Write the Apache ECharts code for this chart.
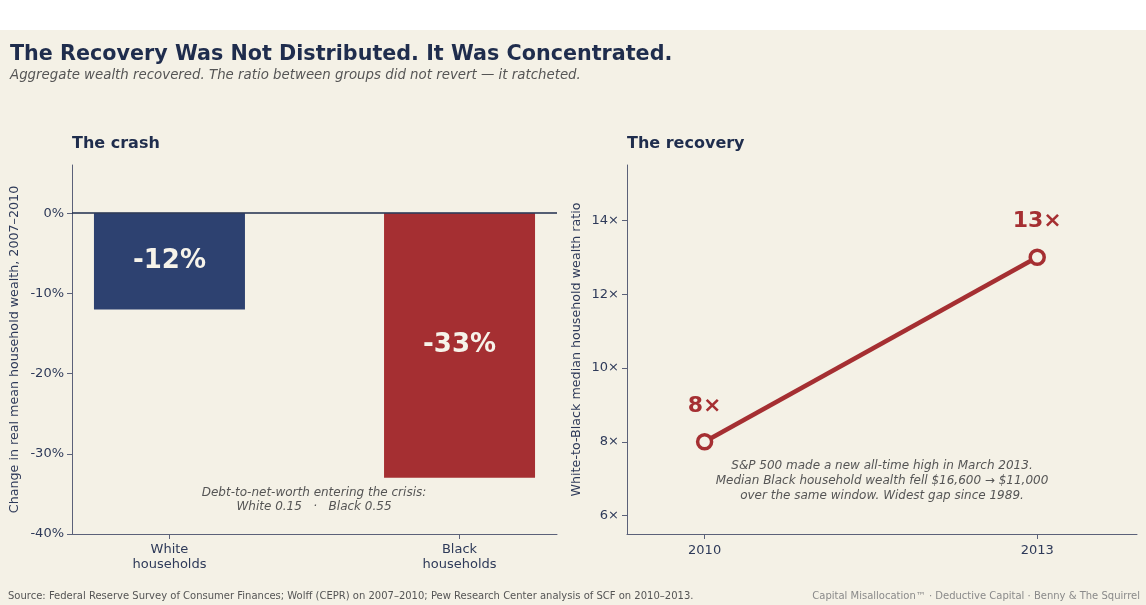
<!DOCTYPE html>
<html>
<head>
<meta charset="utf-8">
<script src="https://cdn.jsdelivr.net/npm/echarts@6/dist/echarts.min.js"></script>
<style>
html,body{margin:0;padding:0;background:#fff;}
#c{width:1146px;height:605px;}
</style>
</head>
<body>
<div id="c"></div>
<script>
// ---- data ----
const crashCategories = ['White\nhouseholds', 'Black\nhouseholds'];
const crashValues = [-12, -33];
const crashColors = ['#2d4170', '#a52f32'];
const crashTicks = [0, -10, -20, -30, -40];

const recoveryYears = [2010, 2013];
const recoveryRatios = [8, 13];
const recoveryTicks = [6, 8, 10, 12, 14];

const BG = '#f4f1e6';
const NAVY = '#1f2d4d';
const AXIS = '#5b6179';
const TICKTXT = '#2e3a59';
const RED = '#a52f32';
const FONT = 'DejaVu Sans';

const chart = echarts.init(document.getElementById('c'));

const option = {
  backgroundColor: BG,
  animation: false,
  textStyle: { fontFamily: FONT },
  title: [
    { text: 'The Recovery Was Not Distributed. It Was Concentrated.', left: 5, top: 39,
      textStyle: { fontFamily: FONT, fontSize: 20.7, fontWeight: 'bold', color: NAVY } },
    { text: 'Aggregate wealth recovered. The ratio between groups did not revert — it ratcheted.', left: 5, top: 64,
      textStyle: { fontFamily: FONT, fontSize: 13.35, fontStyle: 'italic', fontWeight: 'normal', color: '#555' } },
    { text: 'The crash', left: 67, top: 131,
      textStyle: { fontFamily: FONT, fontSize: 16, fontWeight: 'bold', color: NAVY } },
    { text: 'The recovery', left: 622, top: 131,
      textStyle: { fontFamily: FONT, fontSize: 16, fontWeight: 'bold', color: NAVY } },
    { text: 'Source: Federal Reserve Survey of Consumer Finances; Wolff (CEPR) on 2007–2010; Pew Research Center analysis of SCF on 2010–2013.', left: 3, top: 586,
      textStyle: { fontFamily: FONT, fontSize: 10, fontWeight: 'normal', color: '#555' } },
    { text: 'Capital Misallocation™ · Deductive Capital · Benny & The Squirrel', right: 1, top: 586,
      textStyle: { fontFamily: FONT, fontSize: 10, fontWeight: 'normal', color: '#8a8a8a' } }
  ],
  graphic: [
    { type: 'rect', shape: { x: 0, y: 0, width: 1146, height: 30 }, style: { fill: '#ffffff' }, silent: true },
    { type: 'text', x: 314, y: 500, style: { text: 'Debt-to-net-worth entering the crisis:\nWhite 0.15   ·   Black 0.55',
        align: 'center', verticalAlign: 'middle', lineHeight: 14, font: 'italic 12px "DejaVu Sans"', fill: '#555' } },
    { type: 'text', x: 882, y: 481, style: { text: 'S&P 500 made a new all-time high in March 2013.\nMedian Black household wealth fell $16,600 → $11,000\nover the same window. Widest gap since 1989.',
        align: 'center', verticalAlign: 'middle', lineHeight: 15, font: 'italic 12px "DejaVu Sans"', fill: '#555' } }
  ],
  grid: [
    { left: 72, top: 165, width: 485, height: 369 },
    { left: 627, top: 165, width: 510, height: 369 }
  ],
  xAxis: [
    { gridIndex: 0, type: 'value', min: -0.336, max: 1.336,
      splitLine: { show: false },
      axisLine: { show: true, onZero: false, lineStyle: { color: AXIS, width: 1 } },
      axisTick: { show: true, customValues: [0, 1], length: 5, lineStyle: { color: AXIS } },
      axisLabel: { customValues: [0, 1], formatter: v => crashCategories[Math.round(v)] || '',
        color: TICKTXT, fontSize: 13, lineHeight: 15, margin: 8, fontFamily: FONT } },
    { gridIndex: 1, type: 'value', min: 2009.3, max: 2013.9,
      splitLine: { show: false },
      axisLine: { show: true, onZero: false, lineStyle: { color: AXIS, width: 1 } },
      axisTick: { show: true, customValues: recoveryYears, length: 5, lineStyle: { color: AXIS } },
      axisLabel: { customValues: recoveryYears, formatter: v => String(v),
        color: TICKTXT, fontSize: 13, margin: 10, fontFamily: FONT } }
  ],
  yAxis: [
    { gridIndex: 0, type: 'value', min: -40, max: 6,
      name: 'Change in real mean household wealth, 2007–2010', nameLocation: 'middle', nameGap: 51,
      nameTextStyle: { color: TICKTXT, fontSize: 12.7, fontFamily: FONT },
      splitLine: { show: false },
      axisLine: { show: true, onZero: false, lineStyle: { color: AXIS, width: 1 } },
      axisTick: { show: true, customValues: crashTicks, length: 5, lineStyle: { color: AXIS } },
      axisLabel: { customValues: crashTicks, formatter: v => v + '%', color: TICKTXT, fontSize: 13, margin: 8, fontFamily: FONT } },
    { gridIndex: 1, type: 'value', min: 5.5, max: 15.5,
      name: 'White-to-Black median household wealth ratio', nameLocation: 'middle', nameGap: 44,
      nameTextStyle: { color: TICKTXT, fontSize: 12.7, fontFamily: FONT },
      splitLine: { show: false },
      axisLine: { show: true, onZero: false, lineStyle: { color: AXIS, width: 1 } },
      axisTick: { show: true, customValues: recoveryTicks, length: 5, lineStyle: { color: AXIS } },
      axisLabel: { customValues: recoveryTicks, formatter: v => v + '×', color: TICKTXT, fontSize: 13, margin: 8, fontFamily: FONT } }
  ],
  series: [
    { type: 'bar', xAxisIndex: 0, yAxisIndex: 0, barWidth: 151,
      data: crashValues.map((v, i) => ({ value: [i, v], itemStyle: { color: crashColors[i] } })),
      label: { show: true, position: 'inside', formatter: p => p.value[1] + '%',
        color: '#f6f3ea', fontSize: 26, fontWeight: 'bold', fontFamily: FONT },
      markLine: { silent: true, symbol: 'none', label: { show: false },
        lineStyle: { color: NAVY, width: 1.5, type: 'solid' },
        data: [{ yAxis: 0 }] },
      z: 2 },
    { type: 'line', xAxisIndex: 1, yAxisIndex: 1,
      data: recoveryYears.map((y, i) => [y, recoveryRatios[i]]),
      lineStyle: { color: RED, width: 4.5 },
      symbol: 'circle', symbolSize: 14, showAllSymbol: true,
      itemStyle: { color: BG, borderColor: RED, borderWidth: 3.5 },
      label: { show: true, position: 'top', distance: 16, formatter: p => p.value[1] + '×',
        color: RED, fontSize: 22, fontWeight: 'bold', fontFamily: FONT },
      z: 3 }
  ]
};
chart.setOption(option);
</script>
</body>
</html>
